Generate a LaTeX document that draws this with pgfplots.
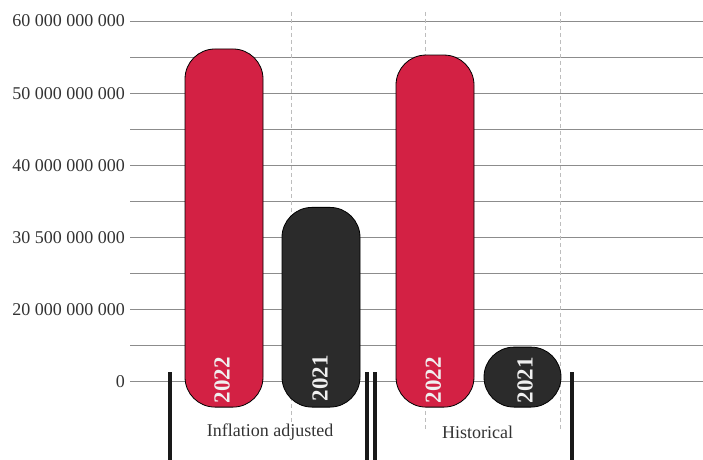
\documentclass[border=0pt]{standalone}
\usepackage{pgfplots}
\pgfplotsset{compat=1.18}
\usepackage{fontspec}
\setmainfont{Liberation Serif}

\definecolor{barred}{HTML}{D32144}
\definecolor{bardark}{HTML}{2B2B2B}
\definecolor{gridgray}{HTML}{8C8C8C}
\definecolor{dashgray}{HTML}{BDBDBD}
\definecolor{txt}{HTML}{333333}

\begin{document}
\begin{tikzpicture}
\path[use as bounding box] (0,0) rectangle (703pt,459pt);
\begin{axis}[
    at={(130pt,77.5pt)}, anchor=south west,
    scale only axis, width=573pt, height=360.5pt,
    xmin=130, xmax=703, ymin=10e9, ymax=60e9,
    clip=false,
    axis line style={draw=none},
    major tick length=0pt, minor tick length=0pt,
    xtick=\empty,
    ytick={10e9,15e9,20e9,25e9,30e9,35e9,40e9,45e9,50e9,55e9,60e9},
    scaled y ticks=false,
    yticklabels={0,,20 000 000 000,,30 500 000 000,,40 000 000 000,,50 000 000 000,,60 000 000 000},
    yticklabel style={font=\fontsize{18}{20}\selectfont, text=txt, inner sep=0pt, xshift=-5pt, anchor=east},
    ymajorgrids,
    major grid style={gridgray, line width=1pt},
    ]

    % dashed guides
    \addplot[dashgray, line width=0.8pt, dash pattern=on 4pt off 3pt] coordinates {(291.5,61.25e9) (291.5,4.2e9)};
    \addplot[dashgray, line width=0.8pt, dash pattern=on 4pt off 3pt] coordinates {(425,61.25e9) (425,3.2e9)};
    \addplot[dashgray, line width=0.8pt, dash pattern=on 4pt off 3pt] coordinates {(560,61.25e9) (560,3.0e9)};

    % bars (pill shaped)
    \addplot[fill=barred, draw=black, line width=0.8pt, rounded corners=30pt]
        coordinates {(185,6.45e9) (185,56.12e9) (263,56.12e9) (263,6.45e9)} -- cycle;
    \addplot[fill=bardark, draw=black, line width=0.8pt, rounded corners=30pt]
        coordinates {(282,6.45e9) (282,34.15e9) (360,34.15e9) (360,6.45e9)} -- cycle;
    \addplot[fill=barred, draw=black, line width=0.8pt, rounded corners=30pt]
        coordinates {(396,6.45e9) (396,55.28e9) (474,55.28e9) (474,6.45e9)} -- cycle;
    \addplot[fill=bardark, draw=black, line width=0.8pt, rounded corners=30pt]
        coordinates {(484,6.45e9) (484,14.77e9) (561,14.77e9) (561,6.45e9)} -- cycle;

    % group separators
    \addplot[black!90, line width=4pt] coordinates {(169.7,11.31e9) (169.7,-1e9)};
    \addplot[black!90, line width=4pt] coordinates {(367,11.31e9) (367,-1e9)};
    \addplot[black!90, line width=4pt] coordinates {(374.7,11.31e9) (374.7,-1e9)};
    \addplot[black!90, line width=4pt] coordinates {(571.7,11.31e9) (571.7,-1e9)};

    % bar labels
    \node[rotate=90, font=\bfseries\fontsize{23}{23}\selectfont, text=white!94!black] at (axis cs:222,10.2e9) {2022};
    \node[rotate=90, font=\bfseries\fontsize{23}{23}\selectfont, text=white!94!black] at (axis cs:320,10.47e9) {2021};
    \node[rotate=90, font=\bfseries\fontsize{23}{23}\selectfont, text=white!94!black] at (axis cs:433.3,10.2e9) {2022};
    \node[rotate=90, font=\bfseries\fontsize{23}{23}\selectfont, text=white!94!black] at (axis cs:525,10.2e9) {2021};

    % group names
    \node[font=\fontsize{18}{20}\selectfont, text=txt] at (axis cs:270,2.98e9) {Inflation adjusted};
    \node[font=\fontsize{18}{20}\selectfont, text=txt] at (axis cs:477.5,2.98e9) {Historical};
\end{axis}
\end{tikzpicture}
\end{document}
